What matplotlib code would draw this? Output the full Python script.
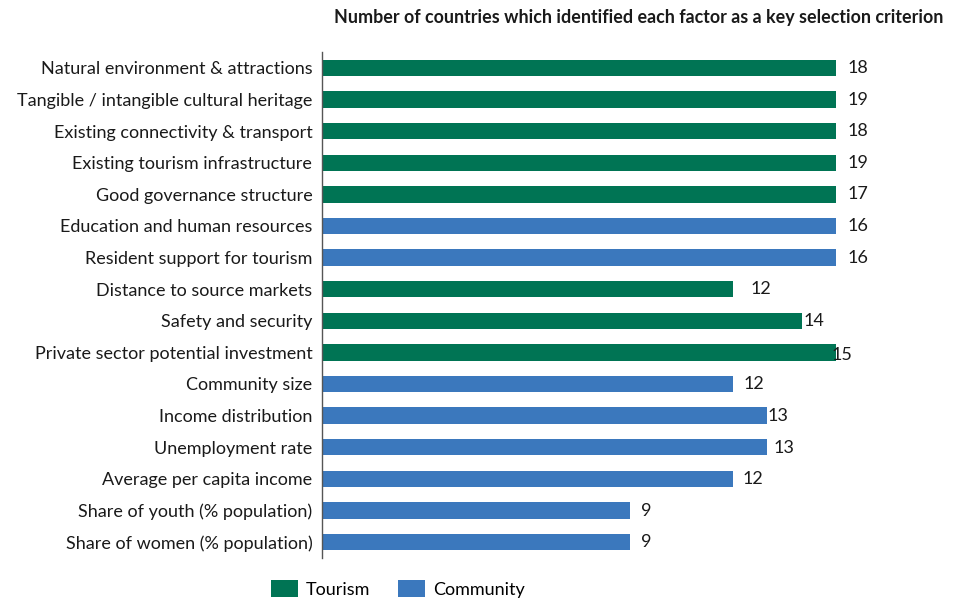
import matplotlib
matplotlib.use("Agg")
import matplotlib.pyplot as plt
import matplotlib.transforms as mtrans
from matplotlib.patches import Patch

plt.rcParams['font.family'] = ['Lato', 'DejaVu Sans']

categories = [
    "Natural environment & attractions",
    "Tangible / intangible cultural heritage",
    "Existing connectivity & transport",
    "Existing tourism infrastructure",
    "Good governance structure",
    "Education and human resources",
    "Resident support for tourism",
    "Distance to source markets",
    "Safety and security",
    "Private sector potential investment",
    "Community size",
    "Income distribution",
    "Unemployment rate",
    "Average per capita income",
    "Share of youth (% population)",
    "Share of women (% population)",
]
values = [18, 19, 18, 19, 17, 16, 16, 12, 14, 15, 12, 13, 13, 12, 9, 9]
groups = ["Tourism"] * 5 + ["Community"] * 2 + ["Tourism"] * 3 + ["Community"] * 6
title = "Number of countries which identified each factor as a key selection criterion"

colors = {"Tourism": "#007454", "Community": "#3B78BD"}
# label horizontal offsets (pixels) mimicking the original placement
label_dx = [12, 12, 12, 12, 12, 12, 12, 17, 2, -4, 10, 0, 6, 9, 11, 11]
label_dy = [0, 0, 0, 0, 0, 0, 0, 0, 0, -3, 0, 0, -1, 0, -1, 0]

FS = 13

fig = plt.figure(figsize=(9.6, 5.98), dpi=100)
ax = fig.add_axes([322/960, 1-557.8/598, 514/960, 505.6/598])

n = len(categories)
ypos = list(range(n))
xmax = 15
ax.barh(ypos, values, height=0.52, color=[colors[g] for g in groups], zorder=2)
ax.set_xlim(0, xmax)
ax.set_ylim(n - 0.5, -0.5)
ax.set_yticks(ypos)
ax.set_yticklabels(categories, fontsize=FS, color="#1a1a1a")
ax.tick_params(axis='y', length=0, pad=7)
ax.set_xticks([])
for s in ["top", "right", "bottom"]:
    ax.spines[s].set_visible(False)
ax.spines["left"].set_color("#555555")
ax.spines["left"].set_linewidth(1.0)

for y, v, dx, dy in zip(ypos, values, label_dx, label_dy):
    x = min(v, xmax)
    tr = ax.transData + mtrans.ScaledTranslation(dx/100, dy/100, fig.dpi_scale_trans)
    ax.text(x, y, str(v), transform=tr, va="center", ha="left",
            fontsize=FS, color="#1a1a1a", clip_on=False)

fig.text(639/960, 1-17/598, title, ha="center", va="center",
         fontsize=12.9, fontweight="bold", color="#1a1a1a")

handles = [Patch(facecolor=colors["Tourism"], label="Tourism"),
           Patch(facecolor=colors["Community"], label="Community")]
fig.legend(handles=handles, loc="center", bbox_to_anchor=(398/960, 1-589/598),
           ncol=2, frameon=False, fontsize=FS, handlelength=1.5, handleheight=1.0,
           columnspacing=1.55, handletextpad=0.45, borderpad=0)

fig.savefig("out.png", dpi=100)
